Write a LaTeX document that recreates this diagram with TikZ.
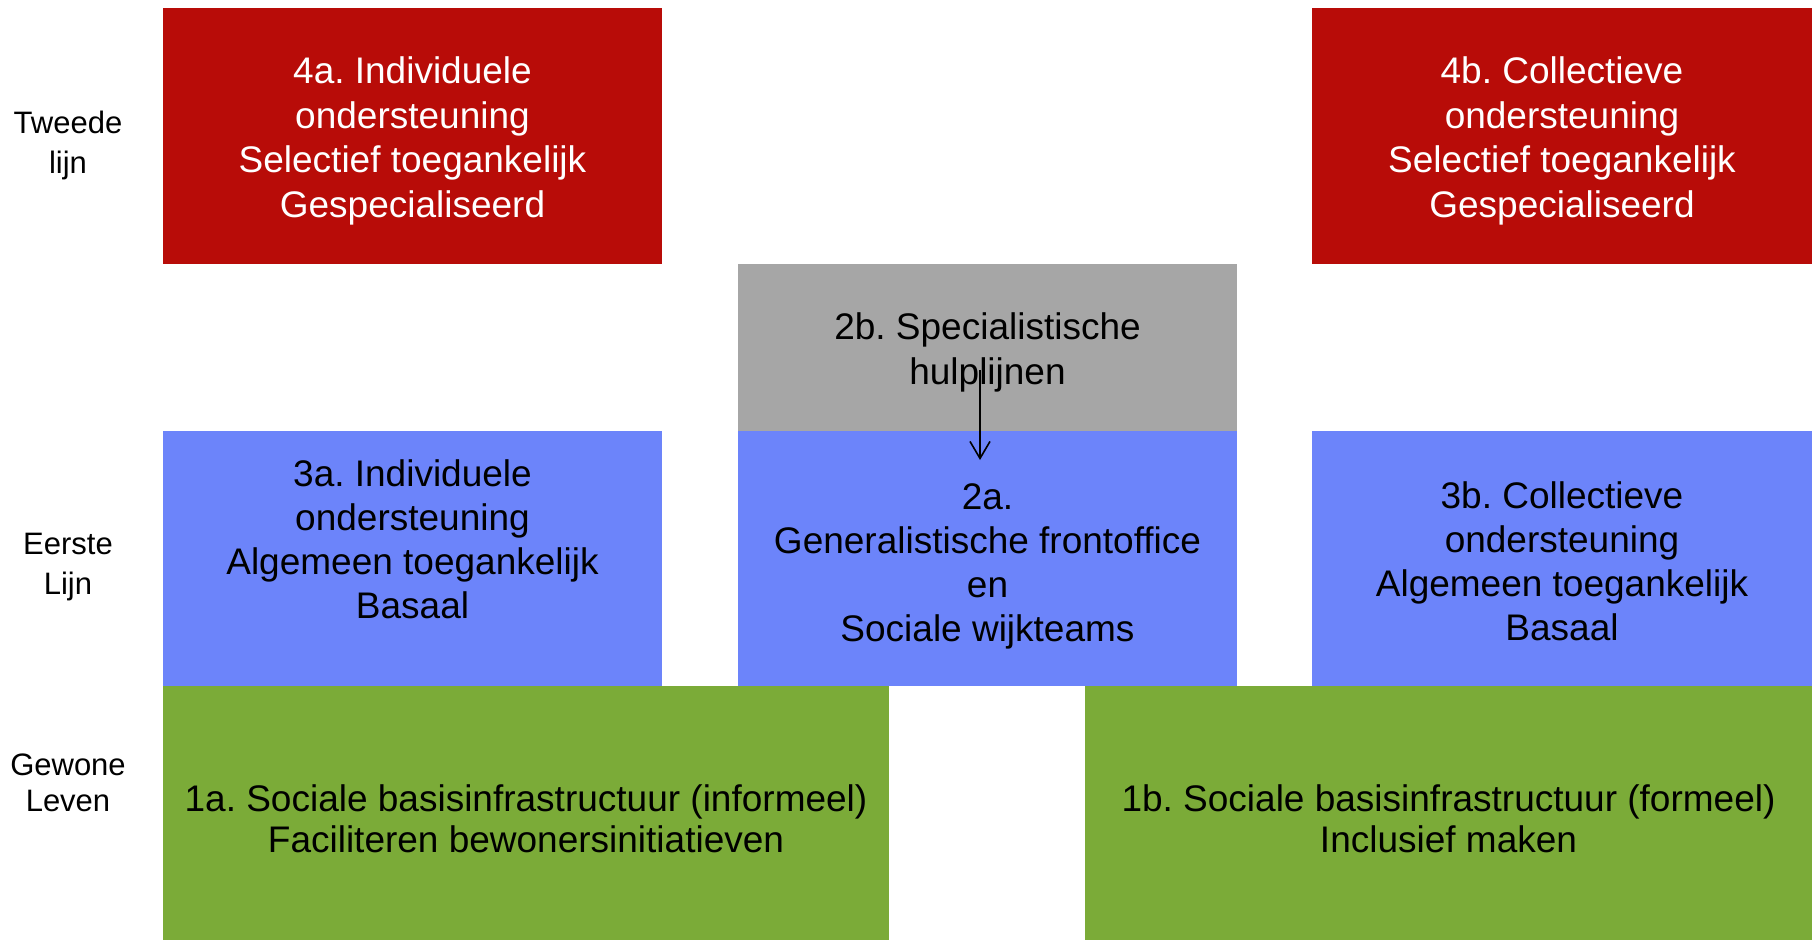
\documentclass[tikz,border=0pt]{standalone}
\usepackage{fontspec}
\setmainfont{Liberation Sans}
\frenchspacing
\usetikzlibrary{arrows.meta}
\definecolor{cred}{RGB}{184,12,8}
\definecolor{cblue}{RGB}{108,132,250}
\definecolor{cgray}{RGB}{166,166,166}
\definecolor{cgreen}{RGB}{123,171,56}
\tikzset{
  box/.style={draw=none, inner sep=0pt, outer sep=0pt},
  txt/.style={anchor=base, align=center, inner sep=0pt, font=\fontsize{37}{44.5}\selectfont},
  lbl/.style={anchor=base, align=center, inner sep=0pt, font=\fontsize{31}{40}\selectfont},
  conn/.style={line width=1.6pt, -{Straight Barb[length=17pt,width=20pt,line width=1.6pt]}}
}
\begin{document}
\begin{tikzpicture}[x=1pt,y=-1pt]
\useasboundingbox (0,0) rectangle (1815,940);
% boxes
\node[box, fill=cred,  minimum width=499pt, minimum height=256pt] (b4a) at (412.5,136) {};
\node[box, fill=cred,  minimum width=500pt, minimum height=256pt] (b4b) at (1562,136) {};
\node[box, fill=cgray, minimum width=499pt, minimum height=167pt] (b2b) at (987.5,347.5) {};
\node[box, fill=cblue, minimum width=499pt, minimum height=255pt] (b3a) at (412.5,558.5) {};
\node[box, fill=cblue, minimum width=499pt, minimum height=255pt] (b2a) at (987.5,558.5) {};
\node[box, fill=cblue, minimum width=500pt, minimum height=255pt] (b3b) at (1562,558.5) {};
\node[box, fill=cgreen, minimum width=726pt, minimum height=254pt] (b1a) at (526,813) {};
\node[box, fill=cgreen, minimum width=727pt, minimum height=254pt] (b1b) at (1448.5,813) {};
% texts (anchor base = baseline of last line)
\node[txt, text=white] (t4a) at (412.5,217) {4a. Individuele\\ondersteuning\\Selectief toegankelijk\\Gespecialiseerd};
\node[txt, text=white] (t4b) at (1562,217) {4b. Collectieve\\ondersteuning\\Selectief toegankelijk\\Gespecialiseerd};
\node[txt] (t2b) at (987.5,384) {2b. Specialistische\\hulplijnen};
\node[txt, font=\fontsize{37}{44}\selectfont] (t2a) at (987.5,641) {2a.\\Generalistische frontoffice\\en\\Sociale wijkteams};
\node[txt, font=\fontsize{37}{44}\selectfont] (t3a) at (412.5,618) {3a. Individuele\\ondersteuning\\Algemeen toegankelijk\\Basaal};
\node[txt, font=\fontsize{37}{44}\selectfont] (t3b) at (1562,640) {3b. Collectieve\\ondersteuning\\Algemeen toegankelijk\\Basaal};
\node[txt, font=\fontsize{37}{41}\selectfont] (t1a) at (526,852) {1a. Sociale basisinfrastructuur (informeel)\\Faciliteren bewonersinitiatieven};
\node[txt, font=\fontsize{37}{41}\selectfont] (t1b) at (1448.5,852) {1b. Sociale basisinfrastructuur (formeel)\\Inclusief maken};
% row labels
\node[lbl] (lTw) at (68,173) {Tweede\\lijn};
\node[lbl] (lEe) at (68,594) {Eerste\\Lijn};
\node[lbl, font=\fontsize{31}{36}\selectfont] (lGe) at (68,811) {Gewone\\Leven};
% arrow
\coordinate (aS) at (980,370);
\coordinate (aE) at (980,460);
\draw[conn] (aS) -- (aE);
\end{tikzpicture}
\end{document}
